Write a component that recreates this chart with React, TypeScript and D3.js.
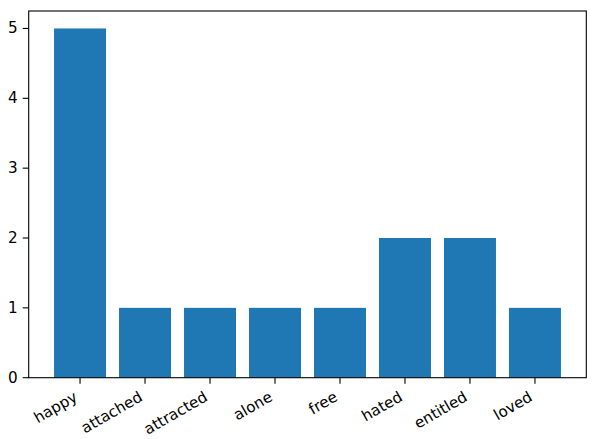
import React from "react";
import * as d3 from "d3";

const categories = ["happy", "attached", "attracted", "alone", "free", "hated", "entitled", "loved"];
const values = [5, 1, 1, 1, 1, 2, 2, 1];
const yTicks = [0, 1, 2, 3, 4, 5];

const W = 600;
const H = 439;
const left = 28.7;
const right = 586.3;
const top = 11;
const bottom = 377.7;
const FONT = "DejaVu Sans, sans-serif";
const FS = 15.2;

export default function App() {
  const n = categories.length;
  const x = d3.scaleLinear().domain([-0.79, n - 1 + 0.79]).range([left, right]);
  const y = d3.scaleLinear().domain([0, 5.25]).range([bottom, top]);
  const bw = x(0.8) - x(0);
  const tickLen = 6;
  return (
    <svg width={W} height={H} style={{ position: "absolute", left: 0, top: 0, background: "#fff" }}>
      <rect x={0} y={0} width={W} height={H} fill="#fff" />
      {categories.map((c, i) => (
        <rect
          key={c}
          x={x(i) - bw / 2}
          y={y(values[i])}
          width={bw}
          height={y(0) - y(values[i])}
          fill="#1f77b4"
        />
      ))}
      <rect x={left} y={top} width={right - left} height={bottom - top} fill="none" stroke="#000" strokeWidth={1.1} />
      {yTicks.map((t) => (
        <g key={t}>
          <line x1={left - tickLen} x2={left} y1={y(t)} y2={y(t)} stroke="#000" strokeWidth={1.1} />
          <text x={left - 11} y={y(t)} textAnchor="end" dominantBaseline="central" fontFamily={FONT} fontSize={FS} fill="#000">
            {t}
          </text>
        </g>
      ))}
      {categories.map((c, i) => (
        <g key={c}>
          <line x1={x(i)} x2={x(i)} y1={bottom} y2={bottom + tickLen} stroke="#000" strokeWidth={1.1} />
          <text
            transform={`translate(${x(i) - 1.5},${bottom + 22.2}) rotate(-30)`}
            textAnchor="end"
            fontFamily={FONT}
            fontSize={FS}
            fill="#000"
          >
            {c}
          </text>
        </g>
      ))}
    </svg>
  );
}
